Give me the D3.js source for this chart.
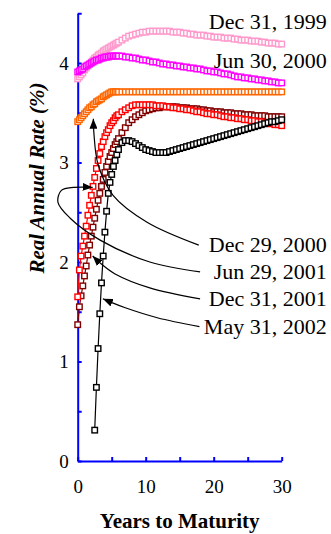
<!DOCTYPE html>
<html>
<head>
<meta charset="utf-8">
<title>Real yield curves</title>
<style>
body {
  margin: 0;
  background: #fff;
  font-family: "Liberation Serif", "Times New Roman", serif;
}

svg {
  display: block;
}

.axis path, .axis line {
  stroke: #0000ff;
  stroke-width: 2px;
}

.axis text {
  font-family: "Liberation Serif", "Times New Roman", serif;
  font-size: 19px;
  fill: #000;
}

.label {
  font-size: 22px;
  text-anchor: end;
}

.title {
  font-size: 21px;
  font-weight: bold;
  text-anchor: middle;
}
</style>
<script src="https://d3js.org/d3.v7.min.js"></script>
</head>
<body>
<script>
const width = 331,
  height = 534;

// maturities (years): quarter years to 6, then half years to 30
const maturities = [0, 0.25, 0.5, 0.75, 1, 1.25, 1.5, 1.75, 2, 2.25, 2.5, 2.75, 3, 3.25, 3.5, 3.75, 4, 4.25, 4.5, 4.75, 5, 5.25, 5.5, 5.75, 6,
  6.5, 7, 7.5, 8, 8.5, 9, 9.5, 10, 10.5, 11, 11.5, 12,
  12.5, 13, 13.5, 14, 14.5, 15, 15.5, 16, 16.5, 17, 17.5, 18,
  18.5, 19, 19.5, 20, 20.5, 21, 21.5, 22, 22.5, 23, 23.5, 24,
  24.5, 25, 25.5, 26, 26.5, 27, 27.5, 28, 28.5, 29, 29.5, 30];

const dec1999 = [3.84, 3.86, 3.88, 3.90, 3.93, 3.95, 3.97, 3.99, 4.01, 4.03, 4.05, 4.06, 4.08, 4.09, 4.10, 4.12, 4.13, 4.14, 4.15, 4.16, 4.17, 4.18, 4.19, 4.20, 4.21,
  4.23, 4.25, 4.27, 4.28, 4.29, 4.30, 4.31, 4.31, 4.32, 4.32, 4.32, 4.32,
  4.32, 4.32, 4.32, 4.31, 4.31, 4.31, 4.30, 4.30, 4.29, 4.29, 4.28, 4.28,
  4.28, 4.27, 4.27, 4.26, 4.26, 4.26, 4.25, 4.25, 4.25, 4.24, 4.24, 4.23,
  4.23, 4.23, 4.22, 4.22, 4.22, 4.21, 4.21, 4.20, 4.20, 4.20, 4.19, 4.19];

const jun2000 = [3.91, 3.92, 3.93, 3.94, 3.96, 3.97, 3.98, 3.99, 4.00, 4.01, 4.02, 4.03, 4.03, 4.04, 4.05, 4.05, 4.06, 4.06, 4.06, 4.07, 4.07, 4.07, 4.07, 4.07, 4.07,
  4.07, 4.06, 4.06, 4.05, 4.05, 4.04, 4.03, 4.03, 4.02, 4.01, 4.01, 4.00,
  3.99, 3.99, 3.98, 3.98, 3.97, 3.97, 3.96, 3.96, 3.95, 3.95, 3.94, 3.94,
  3.93, 3.92, 3.92, 3.91, 3.91, 3.90, 3.89, 3.89, 3.88, 3.87, 3.86, 3.86,
  3.85, 3.85, 3.84, 3.84, 3.83, 3.83, 3.82, 3.82, 3.81, 3.81, 3.80, 3.80];

const dec2000 = [3.41, 3.43, 3.45, 3.47, 3.49, 3.51, 3.53, 3.55, 3.56, 3.58, 3.59, 3.61, 3.62, 3.63, 3.64, 3.66, 3.67, 3.68, 3.69, 3.70, 3.71, 3.71, 3.71, 3.71, 3.71,
  3.71, 3.71, 3.71, 3.71, 3.71, 3.71, 3.71, 3.71, 3.71, 3.71, 3.71, 3.71,
  3.71, 3.71, 3.71, 3.71, 3.71, 3.71, 3.71, 3.71, 3.71, 3.71, 3.71, 3.71,
  3.71, 3.71, 3.71, 3.71, 3.71, 3.71, 3.71, 3.71, 3.71, 3.71, 3.71, 3.71,
  3.71, 3.71, 3.71, 3.71, 3.71, 3.71, 3.71, 3.71, 3.71, 3.71, 3.71, 3.71];

const jun2001 = [1.65, 1.92, 2.06, 2.16, 2.26, 2.36, 2.47, 2.57, 2.67, 2.76, 2.85, 2.94, 3.02, 3.09, 3.16, 3.21, 3.26, 3.30, 3.33, 3.37, 3.40, 3.42, 3.45, 3.47, 3.48,
  3.51, 3.53, 3.55, 3.57, 3.58, 3.58, 3.58, 3.58, 3.58, 3.58, 3.57, 3.57,
  3.57, 3.56, 3.56, 3.55, 3.55, 3.54, 3.54, 3.53, 3.53, 3.52, 3.51, 3.51,
  3.50, 3.49, 3.49, 3.48, 3.48, 3.47, 3.46, 3.46, 3.45, 3.45, 3.44, 3.44,
  3.43, 3.43, 3.42, 3.42, 3.41, 3.41, 3.40, 3.39, 3.39, 3.38, 3.38, 3.37];

const dec2001 = [1.37, 1.55, 1.66, 1.76, 1.86, 1.96, 2.07, 2.17, 2.26, 2.35, 2.44, 2.53, 2.62, 2.69, 2.76, 2.83, 2.90, 2.96, 3.01, 3.06, 3.10, 3.14, 3.18, 3.21, 3.24,
  3.30, 3.35, 3.40, 3.43, 3.46, 3.48, 3.50, 3.52, 3.53, 3.54, 3.55, 3.55,
  3.56, 3.56, 3.56, 3.56, 3.56, 3.55, 3.55, 3.55, 3.54, 3.54, 3.54, 3.53,
  3.53, 3.52, 3.52, 3.51, 3.51, 3.51, 3.50, 3.50, 3.50, 3.49, 3.49, 3.49,
  3.48, 3.48, 3.48, 3.47, 3.47, 3.47, 3.47, 3.46, 3.46, 3.46, 3.46, 3.46];

const may2002 = [null, null, null, null, null, null, null, null, null, null, 0.31, 0.74, 1.13, 1.48, 1.79, 2.06, 2.30, 2.51, 2.69, 2.80, 2.88, 2.96, 3.02, 3.08, 3.13,
  3.20, 3.22, 3.22, 3.21, 3.19, 3.17, 3.15, 3.13, 3.12, 3.11, 3.10, 3.10,
  3.10, 3.10, 3.11, 3.12, 3.13, 3.14, 3.15, 3.16, 3.17, 3.18, 3.19, 3.20,
  3.21, 3.22, 3.23, 3.24, 3.25, 3.26, 3.27, 3.28, 3.29, 3.30, 3.31, 3.32,
  3.33, 3.34, 3.35, 3.36, 3.37, 3.38, 3.39, 3.40, 3.41, 3.41, 3.42, 3.43];

const seriesNames = ['Dec 31, 1999', 'Jun 30, 2000', 'Dec 29, 2000', 'Jun 29, 2001', 'Dec 31, 2001', 'May 31, 2002'];
const seriesValues = [dec1999, jun2000, dec2000, jun2001, dec2001, may2002];
const seriesColors = ['#ff99cc', '#ff00ff', '#ff6600', '#ff0000', '#800000', '#000000'];
// order the curves are painted in (back to front)
const drawOrder = [0, 1, 2, 4, 3, 5];

const xTicks = [0, 5, 10, 15, 20, 25, 30];
const xTickLabels = [0, 10, 20, 30];
const yTicks = [0, 0.5, 1, 1.5, 2, 2.5, 3, 3.5, 4, 4.5];
const yTickLabels = [0, 1, 2, 3, 4];

// label baselines in rate units, right edge a fixed distance past the axis
const labelRates = [4.34, 3.95, 2.10, 1.83, 1.56, 1.28];

// leader lines from the lower labels to their curves, in [maturity, rate]
const leaders = [
  { from: 2, pts: [[17.8, 2.17], [10.2, 2.40], [5.2, 2.67], [3.0, 2.98], [2.4, 3.28], [2.3, 3.44]] },
  { from: 3, pts: [[18.0, 1.90], [10.6, 2.00], [3.3, 2.22], [-1.1, 2.44], [-2.9, 2.60], [-2.4, 2.72], [-0.6, 2.75], [2.2, 2.75]] },
  { from: 4, pts: [[18.0, 1.63], [10.6, 1.74], [5.5, 1.88], [3.3, 1.99], [2.2, 2.06]] },
  { from: 5, pts: [[17.9, 1.35], [11.7, 1.44], [7.0, 1.54], [4.75, 1.60], [3.7, 1.63]] }
];

const x = d3.scaleLinear().domain([0, 30]).range([77.7, 281.7]);
const y = d3.scaleLinear().domain([0, 4.5]).range([461, 13.25]);

let svg = d3.select('body').append('svg')
  .attr('width', width)
  .attr('height', height);

svg.append('defs').append('marker')
  .attr('id', 'head')
  .attr('viewBox', '0 0 10 8')
  .attr('refX', 10)
  .attr('refY', 4)
  .attr('markerWidth', 10)
  .attr('markerHeight', 8)
  .attr('markerUnits', 'userSpaceOnUse')
  .attr('orient', 'auto')
  .append('path')
    .attr('d', 'M0,0L10,4L0,8Z')
    .attr('fill', '#000');

// axes
let yAxis = svg.append('g')
  .attr('class', 'axis')
  .attr('transform', 'translate(' + x(0) + ',0)')
  .call(d3.axisLeft(y)
    .tickValues(yTicks)
    .tickSizeInner(-4)
    .tickSizeOuter(0)
    .tickPadding(9)
    .tickFormat(d => yTickLabels.includes(d) ? d : ''));

let xAxis = svg.append('g')
  .attr('class', 'axis')
  .attr('transform', 'translate(0,' + y(0) + ')')
  .call(d3.axisBottom(x)
    .tickValues(xTicks)
    .tickSizeInner(-4)
    .tickSizeOuter(0)
    .tickFormat(d => xTickLabels.includes(d) ? d : ''));

xAxis.selectAll('text')
  .attr('y', 32)
  .attr('dy', 0);

// curves
let line = d3.line()
  .defined(d => d[1] != null)
  .x(d => x(d[0]))
  .y(d => y(d[1]));

drawOrder.forEach(i => {
  let pts = maturities.map((m, j) => [m, seriesValues[i][j]]);
  let g = svg.append('g');
  g.append('path')
    .attr('d', line(pts))
    .attr('fill', 'none')
    .attr('stroke', seriesColors[i])
    .attr('stroke-width', 1.2);
  g.selectAll('rect')
    .data(pts.filter(d => d[1] != null))
    .enter().append('rect')
      .attr('x', d => x(d[0]) - 2.75)
      .attr('y', d => y(d[1]) - 2.75)
      .attr('width', 5.5)
      .attr('height', 5.5)
      .attr('fill', '#fff')
      .attr('stroke', seriesColors[i])
      .attr('stroke-width', 1.4);
});

// leaders
let leaderLine = d3.line()
  .x(d => x(d[0]))
  .y(d => y(d[1]))
  .curve(d3.curveCatmullRom);

svg.selectAll('path.leader')
  .data(leaders)
  .enter().append('path')
    .attr('class', 'leader')
    .attr('d', d => leaderLine(d.pts))
    .attr('fill', 'none')
    .attr('stroke', '#000')
    .attr('stroke-width', 1.2)
    .attr('marker-end', 'url(#head)');

// series labels
svg.selectAll('text.label')
  .data(seriesNames)
  .enter().append('text')
    .attr('class', 'label')
    .attr('x', x(30) + 45)
    .attr('y', (d, i) => y(labelRates[i]))
    .text(d => d);

// axis titles
svg.append('text')
  .attr('class', 'title')
  .attr('x', (x(0) + x(30)) / 2)
  .attr('y', 528)
  .text('Years to Maturity');

svg.append('text')
  .attr('class', 'title')
  .attr('font-style', 'italic')
  .attr('font-size', 24)
  .attr('transform', 'translate(44,178) rotate(-90)')
  .text('Real Annual Rate (%)');
</script>
</body>
</html>
